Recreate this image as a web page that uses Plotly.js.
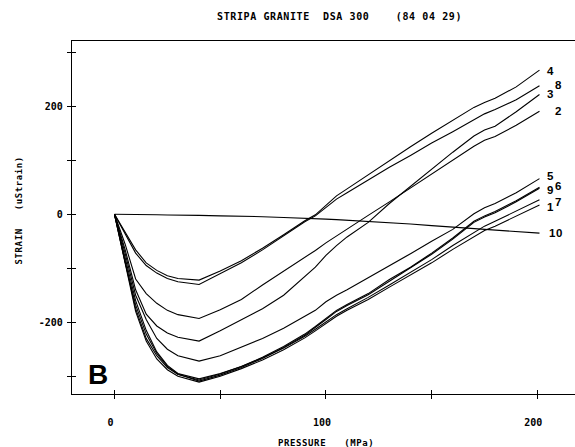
<!DOCTYPE html>
<html>
<head>
<meta charset="utf-8">
<script src="https://cdn.plot.ly/plotly-3.0.1.min.js"></script>
<style>
html, body { margin: 0; padding: 0; background: #fff; }
#chart { width: 575px; height: 447px; }
.gtitle, .annotation-text { letter-spacing: 0.6px; }
</style>
</head>
<body>
<div id="chart"></div>
<script>
// ---- data ----
const pressure = [0, 5, 10, 15, 20, 25, 30, 40, 50, 60, 70, 80, 90, 95, 100, 105, 110, 120, 130, 140, 150, 160, 170, 175, 180, 190, 201];

const strain1  = [0, -90, -180, -235, -268, -288, -300, -311, -300, -286, -270, -251, -229, -216, -202, -189, -178, -158, -135, -113, -90, -65, -42, -30, -22, -3, 17];
const strain2  = [0, -55, -120, -147, -165, -178, -186, -193, -177, -158, -131, -106, -80, -67, -53, -40, -27, -2, 23, 49, 75, 101, 126, 137, 144, 165, 191];
const strain3  = [0, -65, -140, -185, -207, -220, -228, -235, -216, -196, -175, -150, -116, -98, -76, -58, -42, -15, 20, 52, 84, 115, 145, 156, 163, 190, 222];
const strain4  = [0, -33, -66, -90, -104, -114, -119, -122, -105, -86, -63, -38, -12, -1, 16, 34, 47, 73, 100, 125, 150, 174, 198, 207, 215, 236, 267];
const strain5  = [0, -72, -150, -195, -230, -250, -262, -272, -262, -246, -230, -211, -190, -178, -162, -150, -140, -118, -96, -73, -50, -28, 1, 12, 20, 40, 66];
const strain6  = [0, -88, -168, -222, -258, -282, -296, -309, -298, -284, -267, -247, -224, -210, -195, -180, -169, -149, -124, -100, -74, -46, -15, -5, 3, 23, 48];
const strain7  = [0, -82, -160, -215, -255, -280, -295, -305, -295, -282, -266, -248, -226, -213, -199, -186, -175, -154, -131, -108, -84, -58, -34, -22, -13, 6, 27];
const strain8  = [0, -36, -72, -95, -109, -119, -125, -130, -110, -90, -66, -40, -14, -3, 13, 28, 40, 64, 87, 109, 132, 153, 176, 186, 194, 212, 238];
const strain9  = [0, -85, -175, -230, -262, -284, -297, -307, -296, -282, -265, -245, -222, -208, -193, -178, -167, -147, -121, -98, -72, -44, -13, -3, 5, 25, 50];
const strain10 = [0, 0, -0.5, -1, -1, -1.5, -1.5, -2, -3, -3.5, -4.5, -6, -7, -8, -9, -10, -11, -13, -16, -18, -21, -24, -27, -28, -30, -32, -35];

const curveNames = ['1', '2', '3', '4', '5', '6', '7', '8', '9', '10'];
const curveValues = [strain1, strain2, strain3, strain4, strain5, strain6, strain7, strain8, strain9, strain10];

const xTickVals = [0, 50, 100, 150, 200];
const xTickText = ['0', '', '100', '', '200'];
const yTickVals = [-300, -200, -100, 0, 100, 200, 300];
const yTickText = ['', '-200', '', '0', '', '200', ''];

const titleText = 'STRIPA GRANITE\u00a0\u00a0DSA 300\u00a0\u00a0\u00a0\u00a0(84 04 29)';
const xTitleText = 'PRESSURE\u00a0\u00a0\u00a0(MPa)';
const yTitleText = 'STRAIN\u00a0\u00a0\u00a0(uStrain)';
const panelLetter = 'B';

// ---- styling: label offsets from each curve end (pressure, strain units) ----
const labelOffset = {
  '1': [2.5, -3], '2': [6.5, 0], '3': [2.5, 1], '4': [2.5, -2], '5': [2.5, 5],
  '6': [6.5, 4], '7': [6.5, -4], '8': [6.5, 1], '9': [2.5, -5], '10': [3.5, 0]
};

const plotFont = 'DejaVu Sans Mono, monospace';

const traces = curveNames.map((name, i) => ({
  type: 'scatter',
  mode: 'lines',
  name: name,
  x: pressure,
  y: curveValues[i],
  line: { color: '#000', width: 1.1 },
  hoverinfo: 'skip'
}));
// invisible trace so the overlay (inside-tick) axes exist
traces.push({ type: 'scatter', mode: 'markers', x: [0], y: [0], xaxis: 'x2', yaxis: 'y2',
  marker: { opacity: 0, size: 1 }, showlegend: false, hoverinfo: 'skip' });

const annotations = curveNames.map((name, i) => {
  const vals = curveValues[i];
  const off = labelOffset[name];
  return {
    x: pressure[pressure.length - 1] + off[0],
    y: vals[vals.length - 1] + off[1],
    xref: 'x', yref: 'y',
    text: name,
    showarrow: false,
    xanchor: 'left', yanchor: 'middle',
    font: { family: 'Liberation Sans, Arial, sans-serif', size: 11.5, color: '#000', weight: 'bold' }
  };
});
annotations.push({
  x: -13.5, y: -297, xref: 'x', yref: 'y', text: panelLetter, showarrow: false,
  xanchor: 'left', yanchor: 'middle',
  font: { family: 'Liberation Sans, Arial, sans-serif', size: 28, color: '#000', weight: 'bold' }
});
annotations.push({
  x: 0.505, y: 0, xref: 'paper', yref: 'paper', yshift: -49, text: xTitleText, showarrow: false,
  xanchor: 'center', yanchor: 'middle',
  font: { family: plotFont, size: 9, color: '#000', weight: 'bold' }
});
annotations.push({
  x: 0, y: 0.52, xref: 'paper', yref: 'paper', xshift: -53, text: yTitleText, showarrow: false,
  textangle: -90, xanchor: 'center', yanchor: 'middle',
  font: { family: plotFont, size: 9, color: '#000', weight: 'bold' }
});

const axisCommon = {
  showgrid: false, zeroline: false, color: '#000', linecolor: '#000', linewidth: 1.2,
  tickcolor: '#000', tickwidth: 1.1, ticklen: 4, tickmode: 'array', fixedrange: true,
  tickfont: { family: plotFont, size: 10, color: '#000', weight: 'bold' }
};

const layout = {
  width: 575, height: 447,
  margin: { l: 72, r: 0, t: 41, b: 53, pad: 0 },
  paper_bgcolor: '#fff', plot_bgcolor: '#fff',
  showlegend: false,
  title: {
    text: titleText,
    x: 0.532, xref: 'paper', xanchor: 'center',
    y: 1 - 16 / 447, yref: 'container', yanchor: 'middle',
    font: { family: plotFont, size: 10, color: '#000', weight: 'bold' }
  },
  xaxis: Object.assign({}, axisCommon, {
    range: [-20.1, 217.8], tickvals: xTickVals, ticktext: xTickText,
    showline: true, mirror: true, ticks: 'outside', ticklabelstandoff: 15, ticklabelshift: -4
  }),
  yaxis: Object.assign({}, axisCommon, {
    range: [-333, 321], tickvals: yTickVals, ticktext: yTickText,
    showline: true, mirror: false, ticks: 'outside', ticklabelstandoff: 2
  }),
  xaxis2: Object.assign({}, axisCommon, {
    range: [-20.1, 217.8], tickvals: xTickVals, ticktext: xTickText, overlaying: 'x', anchor: 'y2',
    side: 'bottom', showline: false, ticks: 'inside', showticklabels: false
  }),
  yaxis2: Object.assign({}, axisCommon, {
    range: [-333, 321], tickvals: yTickVals, ticktext: yTickText, overlaying: 'y', anchor: 'x2',
    side: 'left', showline: false, ticks: 'inside', showticklabels: false
  }),
  annotations: annotations
};

Plotly.newPlot('chart', traces, layout, { displayModeBar: false, staticPlot: true });
</script>
</body>
</html>
